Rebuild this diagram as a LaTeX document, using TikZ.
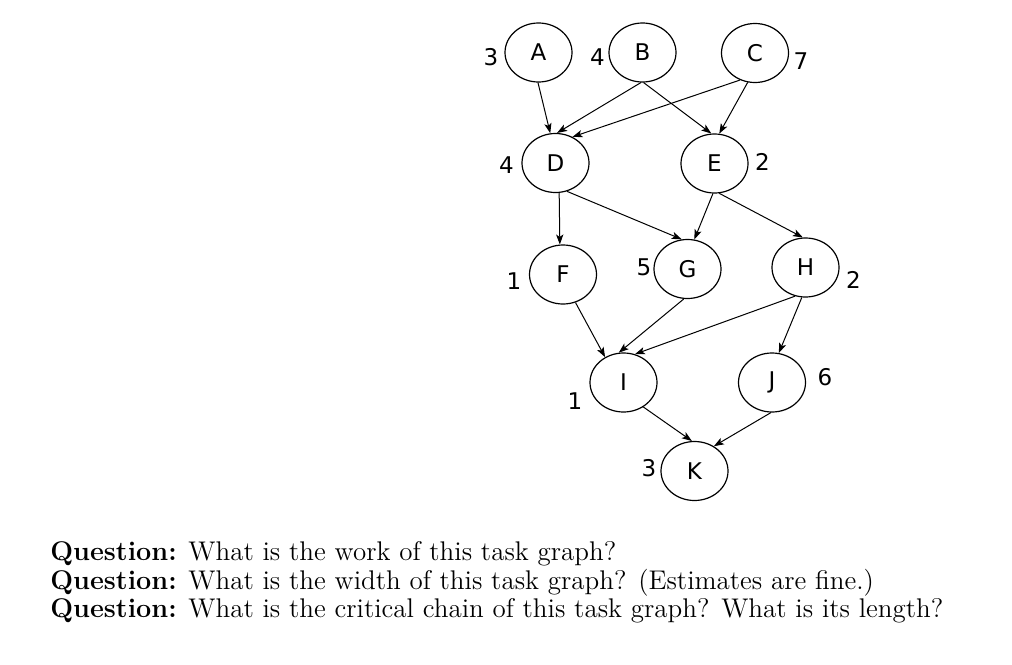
\documentclass[tikz,border=0pt]{standalone}
\usepackage{fontspec}
\newfontfamily\djfont{DejaVu Sans}
\usetikzlibrary{shapes.geometric,arrows.meta}
\tikzset{
  task/.style={ellipse,draw,line width=0.6pt,minimum width=33.5pt,minimum height=29.5pt,inner sep=0pt,font=\djfont\fontsize{11.5}{12}\selectfont},
  wt/.style={font=\djfont\fontsize{11.5}{12}\selectfont,inner sep=0pt},
  dep/.style={line width=0.5pt,-{Stealth[length=5pt,width=3.6pt,inset=1.2pt]}},
  qline/.style={anchor=base west,inner sep=0pt,font=\fontsize{13.5}{16}\selectfont}
}
\begin{document}
\begin{tikzpicture}[x=0.5pt,y=-0.5pt]
\useasboundingbox (0,0) rectangle (1012,664);
% nodes
\node[task] (A) at (538.5,52.5) {A};
\node[task] (B) at (642.5,52.5) {B};
\node[task] (C) at (755,53) {C};
\node[task] (D) at (555.5,163) {D};
\node[task] (E) at (714.5,163.5) {E};
\node[task] (F) at (563,274.5) {F};
\node[task] (G) at (687.5,269) {G};
\node[task] (H) at (805.5,267.5) {H};
\node[task] (I) at (623.5,382.5) {I};
\node[task] (J) at (772,382.5) {J};
\node[task] (K) at (694.5,471) {K};
% weights
\node[wt] (wA) at (491,57.5) {3};
\node[wt] (wB) at (597.5,57.5) {4};
\node[wt] (wC) at (801,61.5) {7};
\node[wt] (wD) at (506.5,165) {4};
\node[wt] (wE) at (762.5,161.5) {2};
\node[wt] (wF) at (514,281.5) {1};
\node[wt] (wG) at (644,267.5) {5};
\node[wt] (wH) at (853.5,280) {2};
\node[wt] (wI) at (575,401.5) {1};
\node[wt] (wJ) at (825,377.5) {6};
\node[wt] (wK) at (649,468.5) {3};
% edges
\draw[dep] (A.-91) -- (D.100);
\draw[dep] (B.-93) -- (D.87);
\draw[dep] (B.-88) -- (E.96.5);
\draw[dep] (C.-119.7) -- (D.57);
\draw[dep] (C.-104.5) -- (E.81.6);
\draw[dep] (D.-83) -- (F.96);
\draw[dep] (D.-68) -- (G.101);
\draw[dep] (E.-93) -- (G.77);
\draw[dep] (E.-81) -- (H.95);
\draw[dep] (F.-66) -- (I.126);
\draw[dep] (G.-97) -- (I.99);
\draw[dep] (H.-110) -- (I.68);
\draw[dep] (H.-97) -- (J.77);
\draw[dep] (I.-51) -- (K.95);
\draw[dep] (J.-92) -- (K.52);
% questions
\node[qline] (q1) at (50,560) {\textbf{Question:} What is the work of this task graph?};
\node[qline] (q2) at (50,589) {\textbf{Question:} What is the width of this task graph? (Estimates are fine.)};
\node[qline] (q3) at (50,617) {\textbf{Question:} What is the critical chain of this task graph? What is its length?};
\end{tikzpicture}
\end{document}
